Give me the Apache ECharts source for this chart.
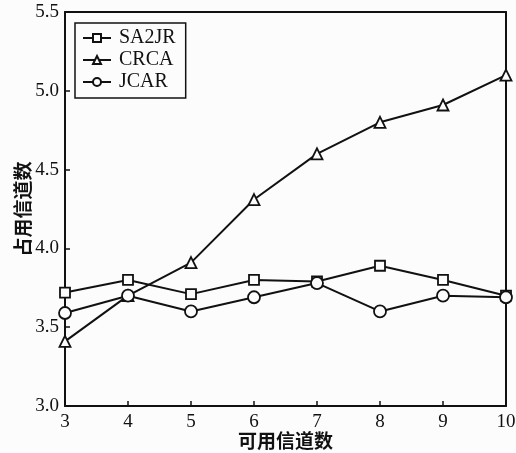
<!DOCTYPE html>
<html><head><meta charset="utf-8">
<script src="https://cdn.jsdelivr.net/npm/echarts@6/dist/echarts.min.js"></script>
<style>html,body{margin:0;padding:0;background:#fcfcfc}#c{width:516px;height:453px}</style>
</head><body><div id="c"></div>
<script>
const channels = [3, 4, 5, 6, 7, 8, 9, 10];
const sa2jr = [3.72, 3.80, 3.71, 3.80, 3.79, 3.89, 3.80, 3.70];
const crca  = [3.41, 3.70, 3.91, 4.31, 4.60, 4.80, 4.91, 5.10];
const jcar  = [3.59, 3.70, 3.60, 3.69, 3.78, 3.60, 3.70, 3.69];
const yTicks = [3.0, 3.5, 4.0, 4.5, 5.0, 5.5];

const chart = echarts.init(document.getElementById('c'));
const font = '"Liberation Serif", "Times New Roman", serif';
function mk(name, vals, sym, size) {
  return {
    name, type: 'line', data: channels.map((x, i) => [x, vals[i]]),
    symbol: sym, symbolSize: size, showAllSymbol: true,
    lineStyle: { color: '#111', width: 2 },
    itemStyle: { color: '#fcfcfc', borderColor: '#111', borderWidth: 1.8 },
    emphasis: { disabled: true }, animation: false, z: 3
  };
}
const axisCommon = {
  axisLine: { show: true, lineStyle: { color: '#111', width: 2 } },
  splitLine: { show: false }
};
chart.setOption({
  backgroundColor: '#fcfcfc',
  animation: false,
  grid: { left: 65, right: 10, top: 12, bottom: 47, containLabel: false, outerBoundsMode: 'none' },
  legend: {
    orient: 'vertical', left: 75, top: 23, itemWidth: 28, itemHeight: 10, itemGap: 2,
    padding: [5, 10, 6, 7],
    borderColor: '#111', borderWidth: 1.5, backgroundColor: '#fcfcfc',
    textStyle: { fontFamily: font, fontSize: 20, color: '#111', padding: [0, 0, 0, 3] },
    data: ['SA2JR', 'CRCA', 'JCAR']
  },
  xAxis: [{
    type: 'value', min: 3, max: 10, interval: 1, ...axisCommon,
    name: '可用信道数', nameLocation: 'middle', nameGap: 25, nameMoveOverlap: false,
    nameTextStyle: { fontFamily: '"Noto Sans CJK SC"', fontSize: 19, color: '#111', fontWeight: 'bold' },
    axisTick: { show: true, inside: true, length: 5, lineStyle: { color: '#111', width: 1.5 } },
    axisLabel: { fontFamily: font, fontSize: 19, color: '#111', margin: 7 }
  }, {
    type: 'value', min: 3, max: 10, interval: 1, position: 'top', ...axisCommon,
    axisTick: { show: false }, axisLabel: { show: false }
  }],
  yAxis: [{
    type: 'value', min: 3, max: 5.5, interval: 0.5, ...axisCommon,
    name: '占用信道数', nameLocation: 'middle', nameGap: 33, nameRotate: 90, nameMoveOverlap: false,
    nameTextStyle: { fontFamily: '"Noto Sans CJK SC"', fontSize: 19, color: '#111', fontWeight: 'bold' },
    axisTick: { show: true, inside: true, length: 5, lineStyle: { color: '#111', width: 1.5 } },
    axisLabel: { fontFamily: font, fontSize: 19, color: '#111', margin: 6,
      formatter: v => { const t = yTicks.find(k => Math.abs(k - v) < 1e-6); return t === undefined ? '' : t.toFixed(1); } }
  }, {
    type: 'value', min: 3, max: 5.5, interval: 0.5, position: 'right', ...axisCommon,
    axisTick: { show: false }, axisLabel: { show: false }
  }],
  series: [
    mk('SA2JR', sa2jr, 'rect', 10),
    mk('CRCA', crca, 'triangle', 11),
    mk('JCAR', jcar, 'circle', 12)
  ]
});
</script></body></html>
